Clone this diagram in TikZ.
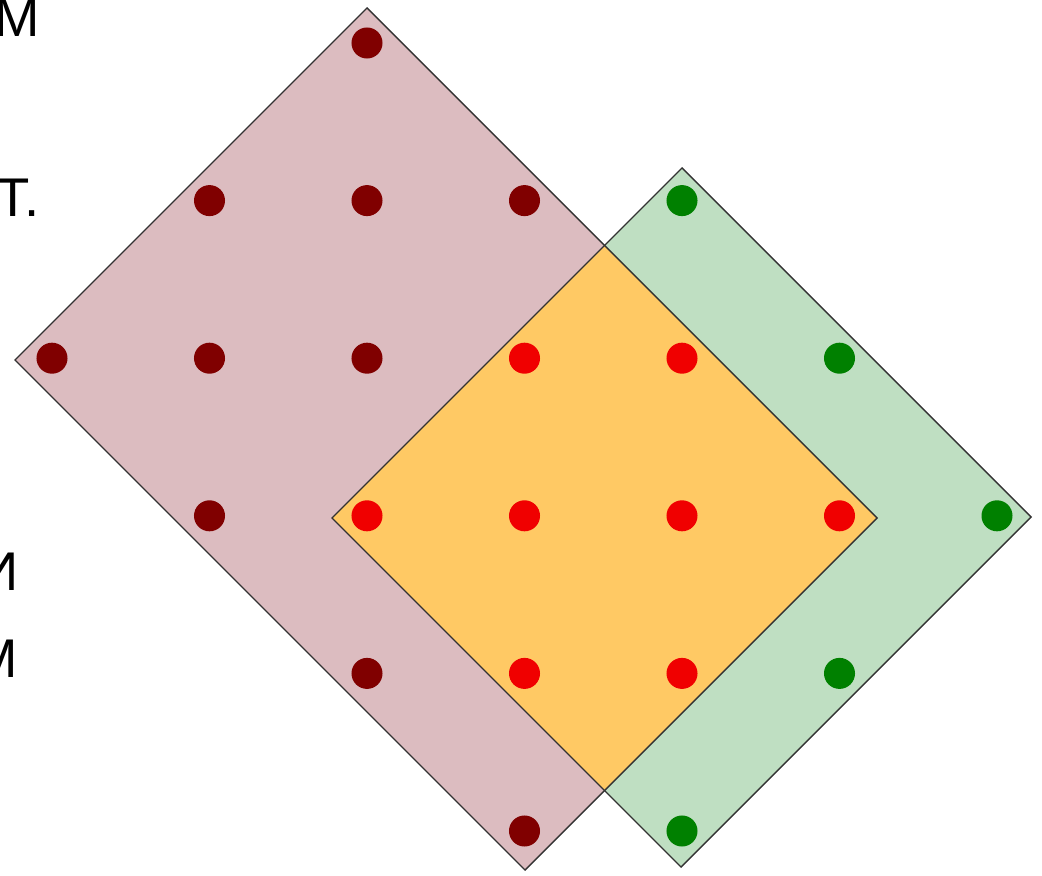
\documentclass[tikz,border=0pt]{standalone}
\usepackage{fontspec}
\setmainfont{Liberation Sans}
\definecolor{pinkfill}{RGB}{220,188,192}
\definecolor{greenfill}{RGB}{191,223,194}
\definecolor{orangefill}{RGB}{255,201,100}
\definecolor{dkred}{RGB}{128,0,0}
\definecolor{brred}{RGB}{240,0,0}
\definecolor{dkgreen}{RGB}{0,128,0}
\definecolor{edge}{RGB}{50,50,50}
\tikzset{
  dotbase/.style={circle,inner sep=0pt,minimum size=0.31cm},
  dotdark/.style={dotbase,fill=dkred},
  dotred/.style={dotbase,fill=brred},
  dotgreen/.style={dotbase,fill=dkgreen},
  border/.style={draw=edge,line width=0.4pt,line join=miter},
  cut/.style={inner sep=0pt,anchor=base east,font=\fontsize{15.5}{18}\selectfont}
}
\begin{document}
\begin{tikzpicture}[x=0.01cm,y=-0.01cm]
\useasboundingbox (0,0) rectangle (1042,876);
% pink rectangle
\coordinate (pT) at (367,8);
\coordinate (pR) at (877,518);
\coordinate (pB) at (525,870);
\coordinate (pL) at (15,360);
% green rectangle
\coordinate (gT) at (682,168);
\coordinate (gR) at (1031,517);
\coordinate (gB) at (681,867);
\coordinate (gL) at (332,518);
\fill[pinkfill] (pT) -- (pR) -- (pB) -- (pL) -- cycle;
\fill[greenfill] (gT) -- (gR) -- (gB) -- (gL) -- cycle;
\begin{scope}
  \clip (pT) -- (pR) -- (pB) -- (pL) -- cycle;
  \fill[orangefill] (gT) -- (gR) -- (gB) -- (gL) -- cycle;
\end{scope}
\draw[border] (pT) -- (pR) -- (pB) -- (pL) -- cycle;
\draw[border] (gT) -- (gR) -- (gB) -- (gL) -- cycle;
% dots
\foreach \i/\j in {2/0,1/1,2/1,3/1,0/2,1/2,2/2,1/3,2/4,3/5}
  \node[dotdark] (d\i\j) at ({52+157.5*\i},{43+157.6*\j}) {};
\foreach \i/\j in {3/2,4/2,2/3,3/3,4/3,5/3,3/4,4/4}
  \node[dotred] (r\i\j) at ({52+157.5*\i},{43+157.6*\j}) {};
\foreach \i/\j in {4/1,5/2,6/3,5/4,4/5}
  \node[dotgreen] (g\i\j) at ({52+157.5*\i},{43+157.6*\j}) {};
% cut-off text at the left edge
\begin{scope}
  \clip (0,0) rectangle (1042,876);
  \node[cut] (t1) at (41,37) {М};
  \node[cut] (t2) at (40,217) {Т.};
  \node[cut] (t3) at (19,590) {И};
  \node[cut] (t4) at (19,677) {М};
\end{scope}
\end{tikzpicture}
\end{document}
